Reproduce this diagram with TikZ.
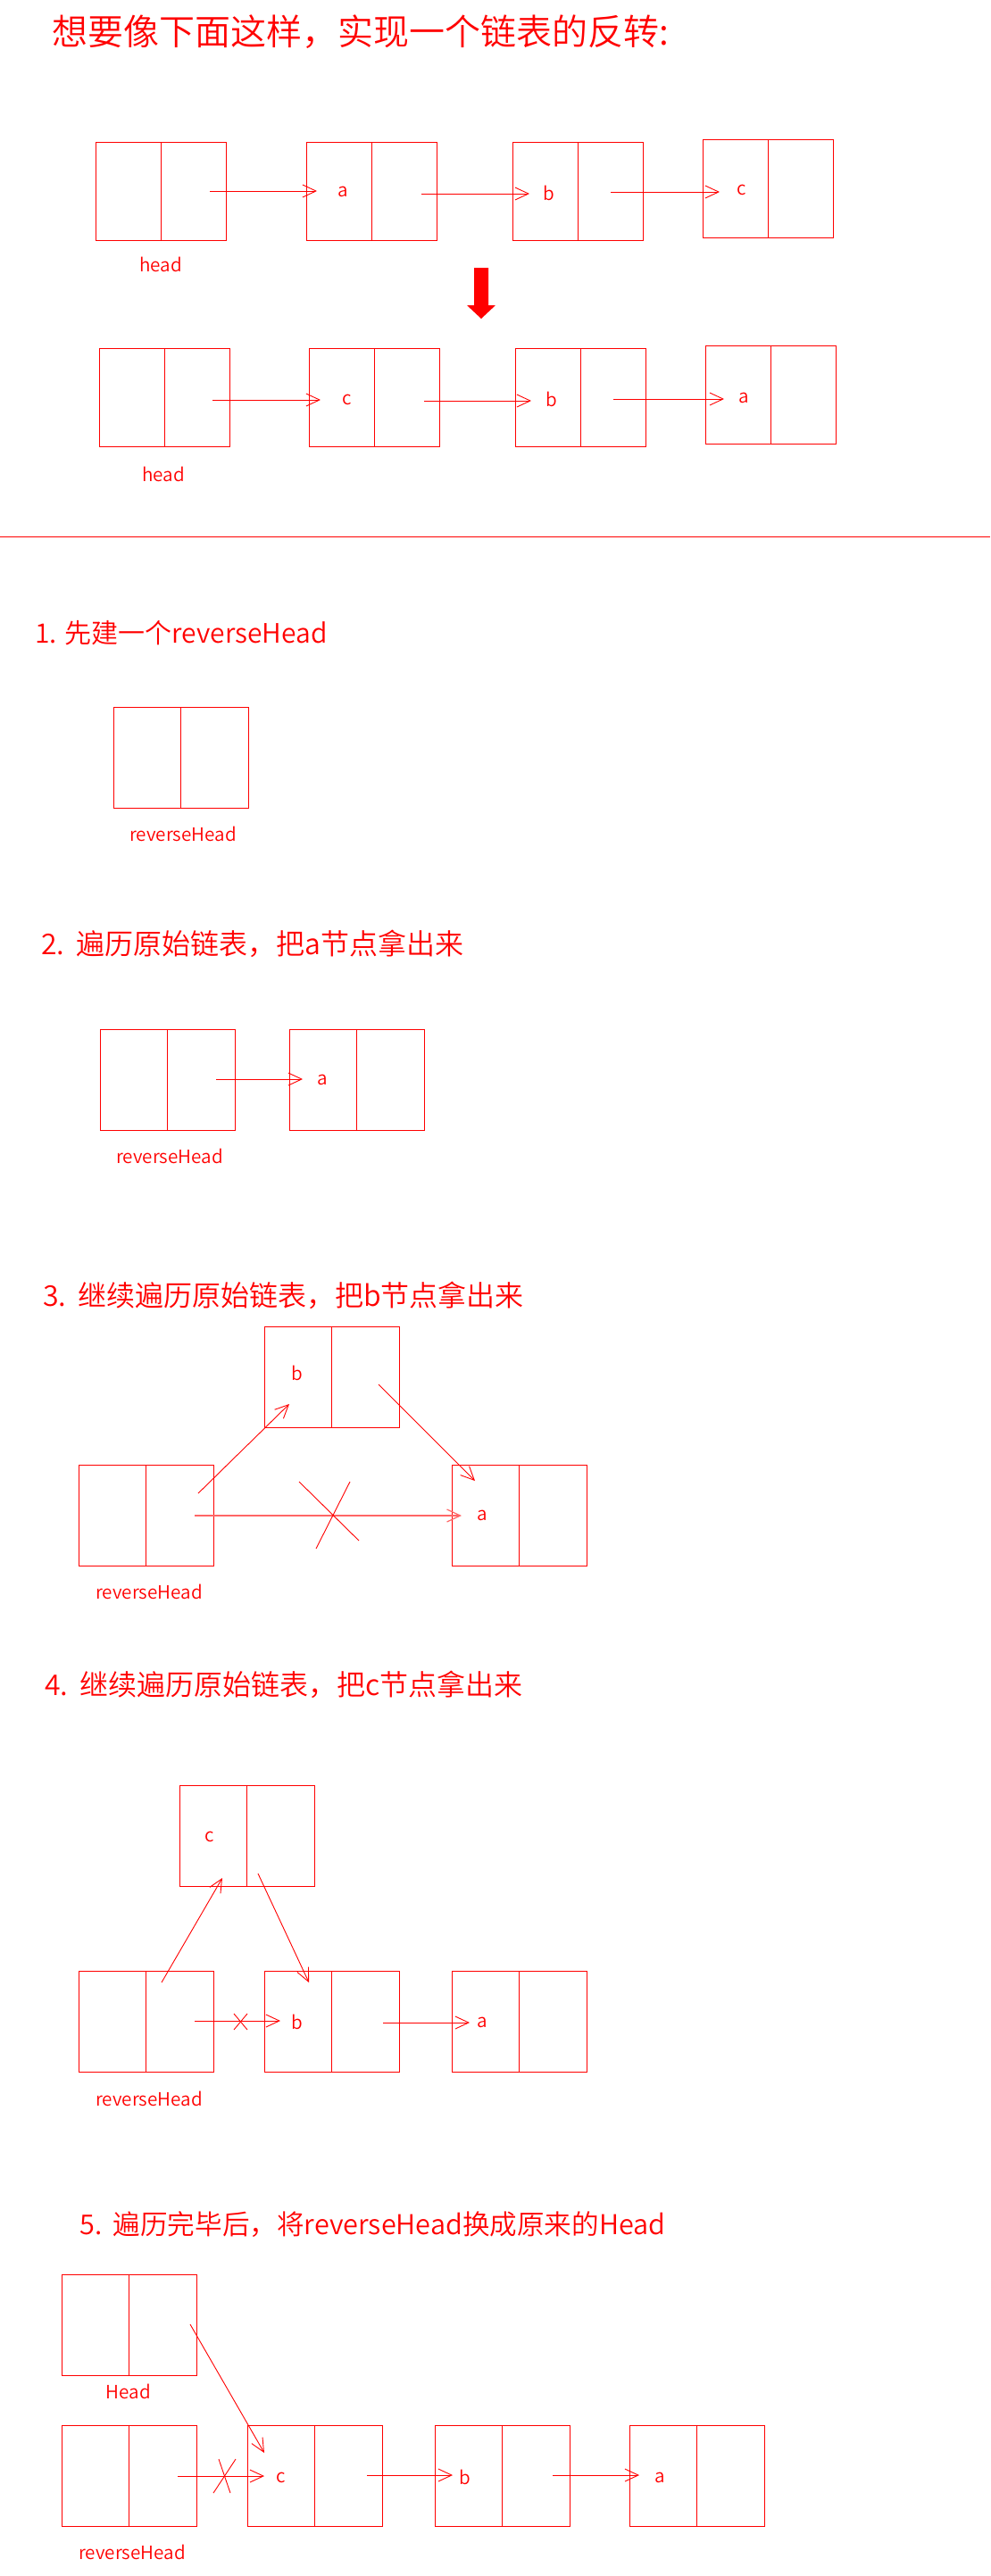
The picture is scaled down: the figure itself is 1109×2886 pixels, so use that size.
\documentclass[tikz,border=0pt]{standalone}
\usepackage{fontspec}
\setmainfont{Noto Sans CJK SC DemiLight}
\usetikzlibrary{arrows.meta}
\begin{document}
\begin{tikzpicture}[x=0.5pt,y=-0.5pt,
  lst/.style={draw=red,line width=0.5pt,minimum width=75.5pt,minimum height=56.5pt,inner sep=0pt,outer sep=0pt,
    path picture={\draw[red,line width=0.5pt] (path picture bounding box.north) -- (path picture bounding box.south);}},
  lstt/.style={lst,minimum width=73pt,minimum height=55pt},
  arr/.style={draw=red,line width=0.45pt,-{Straight Barb[length=7.5pt,width=7pt,line width=0.45pt]}},
  lite/.style={draw=red!60,line width=1pt,-{Straight Barb[length=7.5pt,width=7pt,line width=0.6pt]}},
  lbl/.style={text=red,font=\fontsize{10.3}{12}\selectfont,inner sep=0pt},
  ttl/.style={text=red,anchor=base west,inner sep=0pt,font=\fontsize{15}{18}\selectfont},
  ttlb/.style={ttl,font=\fontsize{16}{19}\selectfont},
  xline/.style={draw=red,line width=0.45pt}]
\useasboundingbox (0,0) rectangle (1109,2886);

% ---------- top title ----------
\node[ttl,font=\fontsize{20}{24}\selectfont] (T0) at (58,50) {想要像下面这样，实现一个链表的反转:};

% ---------- row 1 ----------
\node[lstt] (H1) at (180,214) {};
\node[lstt] (A1) at (416,214) {};
\node[lstt] (B1) at (647,214) {};
\node[lstt] (C1) at (860,211.5) {};
\node[lbl] (la1) at (384,215) {a};
\node[lbl] (lb1) at (615,216) {b};
\node[lbl] (lc1) at (831,213) {c};
\node[lbl] (hd1) at (180,296) {head};
\coordinate (s11) at (235,214); \coordinate (e11) at (355,214);
\coordinate (s12) at (472,217); \coordinate (e12) at (593,217);
\coordinate (s13) at (684,215); \coordinate (e13) at (806,215);
\draw[arr] (s11) -- (e11);
\draw[arr] (s12) -- (e12);
\draw[arr] (s13) -- (e13);

% big arrow
\fill[red] (531,300) -- (547,300) -- (547,342) -- (555,342) -- (539,357) -- (523,342) -- (531,342) -- cycle;

% ---------- row 2 ----------
\node[lstt] (H2) at (184,445.5) {};
\node[lstt] (C2) at (419,445.5) {};
\node[lstt] (B2) at (650,445.5) {};
\node[lstt] (A2) at (863,442.5) {};
\node[lbl] (lc2) at (389,448) {c};
\node[lbl] (lb2) at (618,447) {b};
\node[lbl] (la2) at (833,446) {a};
\node[lbl] (hd2) at (183,531) {head};
\coordinate (s21) at (238,448); \coordinate (e21) at (359,448);
\coordinate (s22) at (475,449); \coordinate (e22) at (595,449);
\coordinate (s23) at (687,447); \coordinate (e23) at (811,447);
\draw[arr] (s21) -- (e21);
\draw[arr] (s22) -- (e22);
\draw[arr] (s23) -- (e23);

% separator
\draw[red,line width=0.5pt] (0,601) -- (1109,601);

% ---------- step 1 ----------
\node[ttl] (T1) at (39,720) {1. 先建一个reverseHead};
\node[lst] (R1) at (202.5,849) {};
\node[lbl] (rl1) at (205,934) {reverseHead};

% ---------- step 2 ----------
\node[ttlb] (T2) at (46,1069) {2.\hspace{0.4em}遍历原始链表，把a节点拿出来};
\node[lst] (R2) at (187.5,1210) {};
\node[lst] (A2s) at (399.5,1210) {};
\node[lbl] (la2s) at (361,1210) {a};
\node[lbl] (rl2) at (190,1295) {reverseHead};
\coordinate (s2a) at (242,1209); \coordinate (e2a) at (339,1209);
\draw[arr] (s2a) -- (e2a);

% ---------- step 3 ----------
\node[ttlb] (T3) at (48,1463) {3.\hspace{0.4em}继续遍历原始链表，把b节点拿出来};
\node[lst] (B3) at (371.5,1543) {};
\node[lst] (R3) at (163.5,1697.5) {};
\node[lst] (A3) at (581.5,1697.5) {};
\node[lbl] (lb3) at (333,1538) {b};
\node[lbl] (la3) at (540,1698) {a};
\node[lbl] (rl3) at (167,1783) {reverseHead};
\coordinate (s3a) at (222,1673); \coordinate (e3a) at (324,1573);
\coordinate (s3b) at (424,1551); \coordinate (e3b) at (532,1659);
\coordinate (s3c) at (218,1698); \coordinate (e3c) at (517,1698);
\draw[arr] (s3a) -- (e3a);
\draw[arr] (s3b) -- (e3b);
\draw[lite] (s3c) -- (e3c);
\draw[xline] (335,1660) -- (402,1726);
\draw[xline] (392,1660) -- (354,1735);

% ---------- step 4 ----------
\node[ttlb] (T4) at (50,1899) {4.\hspace{0.4em}继续遍历原始链表，把c节点拿出来};
\node[lst] (C4) at (276.5,2056.5) {};
\node[lst] (R4) at (163.5,2264.5) {};
\node[lst] (B4) at (371.5,2264.5) {};
\node[lst] (A4) at (581.5,2264.5) {};
\node[lbl] (lc4) at (235,2058) {c};
\node[lbl] (lb4) at (333,2265) {b};
\node[lbl] (la4) at (540,2266) {a};
\node[lbl] (rl4) at (167,2351) {reverseHead};
\coordinate (s4a) at (181,2221); \coordinate (e4a) at (249,2104);
\coordinate (s4b) at (289,2099); \coordinate (e4b) at (346,2221);
\coordinate (s4c) at (218,2264); \coordinate (e4c) at (314,2264);
\coordinate (s4d) at (429,2266); \coordinate (e4d) at (526,2266);
\draw[arr] (s4a) -- (e4a);
\draw[arr] (s4b) -- (e4b);
\draw[arr] (s4c) -- (e4c);
\draw[arr] (s4d) -- (e4d);
\draw[xline] (262,2256) -- (277,2274);
\draw[xline] (277,2256) -- (262,2274);

% ---------- step 5 ----------
\node[ttl,font=\fontsize{15.3}{18}\selectfont] (T5) at (89,2503) {5.\hspace{0.4em}遍历完毕后，将reverseHead换成原来的Head};
\node[lst] (Hd5) at (144.5,2604.5) {};
\node[lbl] (hl5) at (144,2679) {Head};
\node[lst] (R5) at (144.5,2774) {};
\node[lst] (C5) at (352.5,2774) {};
\node[lst] (B5) at (562.5,2774) {};
\node[lst] (A5) at (780.5,2774) {};
\node[lbl] (lc5) at (315,2776) {c};
\node[lbl] (lb5) at (521,2775) {b};
\node[lbl] (la5) at (739,2776) {a};
\node[lbl] (rl5) at (148,2859) {reverseHead};
\coordinate (s5a) at (213,2604); \coordinate (e5a) at (296,2748);
\coordinate (s5b) at (199,2774); \coordinate (e5b) at (296,2774);
\coordinate (s5c) at (411,2773); \coordinate (e5c) at (507,2773);
\coordinate (s5d) at (619,2773); \coordinate (e5d) at (716,2773);
\draw[arr] (s5a) -- (e5a);
\draw[arr] (s5b) -- (e5b);
\draw[arr] (s5c) -- (e5c);
\draw[arr] (s5d) -- (e5d);
\draw[xline] (245,2755) -- (258,2793);
\draw[xline] (264,2755) -- (239,2793);
\end{tikzpicture}
\end{document}
